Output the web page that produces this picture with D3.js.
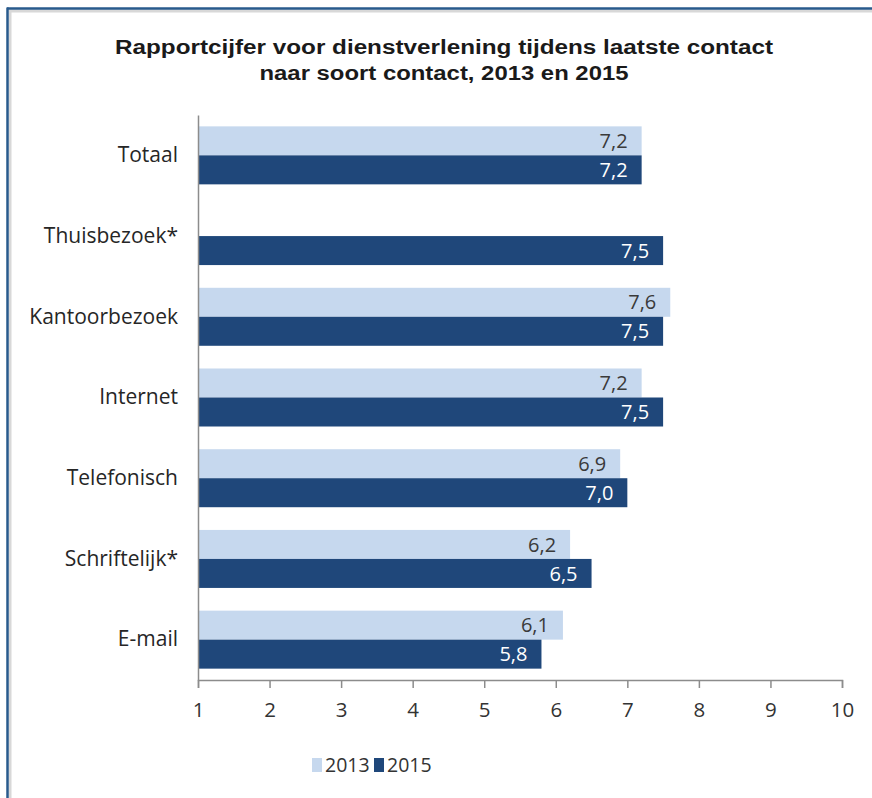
<!DOCTYPE html>
<html>
<head>
<meta charset="utf-8">
<script src="https://cdn.jsdelivr.net/npm/d3@7"></script>
<style>
  html, body { margin: 0; padding: 0; background: #fff; }
  svg { display: block; }
</style>
</head>
<body>
<script>
// Rapportcijfers per soort contact
const categories = ["Totaal", "Thuisbezoek*", "Kantoorbezoek", "Internet", "Telefonisch", "Schriftelijk*", "E-mail"];
const series = ["2013", "2015"];
const values2013 = [7.2, null, 7.6, 7.2, 6.9, 6.2, 6.1];
const values2015 = [7.2, 7.5, 7.5, 7.5, 7.0, 6.5, 5.8];
const tickValues = [1, 2, 3, 4, 5, 6, 7, 8, 9, 10];
const titleLines = ["Rapportcijfer voor dienstverlening tijdens laatste contact", "naar soort contact, 2013 en 2015"];

const W = 872, H = 798;
const colors = { "2013": "#c6d8ee", "2015": "#1f477a" };
const labelColors = { "2013": "#3a3a3a", "2015": "#ffffff" };
const fontUI = "'Open Sans', 'Noto Sans', sans-serif";

const svg = d3.select("body").append("svg").attr("width", W).attr("height", H);

// frame with soft inner shadow
svg.append("rect").attr("x", 10).attr("y", 11).attr("width", W).attr("height", H)
  .attr("fill", "none").attr("stroke", "#d8d8d8").attr("stroke-width", 3);
svg.append("line").attr("x1", 7).attr("x2", W).attr("y1", 8.5).attr("y2", 8.5)
  .attr("stroke", "#285a8c").attr("stroke-width", 2.5);
svg.append("line").attr("x1", 7.5).attr("x2", 7.5).attr("y1", 7.5).attr("y2", H)
  .attr("stroke", "#285a8c").attr("stroke-width", 2.5);

// title, two centred lines stretched to the chart's title width
const titleWidths = [658, 369];
svg.append("g").selectAll("text").data(titleLines).join("text")
  .attr("x", 444).attr("y", (d, i) => 54 + i * 26)
  .attr("text-anchor", "middle")
  .attr("font-family", "'Liberation Sans', Arial, sans-serif")
  .attr("font-weight", "bold")
  .attr("font-size", 19.5)
  .attr("fill", "#1a1a1a")
  .attr("textLength", (d, i) => titleWidths[i])
  .attr("lengthAdjust", "spacingAndGlyphs")
  .text(d => d);

const x = d3.scaleLinear().domain([1, 10]).range([198, 842]);
const y = d3.scaleBand().domain(categories).range([115, 680]);
const yInner = d3.scaleBand().domain(series).range([0, 58]);
const barOffset = (y.bandwidth() - 58) / 2;

const rows = categories.map((c, i) => ({ cat: c, vals: { "2013": values2013[i], "2015": values2015[i] } }));
const bars = [];
rows.forEach(r => series.forEach(s => { if (r.vals[s] != null) bars.push({ cat: r.cat, s, v: r.vals[s] }); }));

const g = svg.append("g");
g.selectAll("rect.bar").data(bars).join("rect")
  .attr("class", "bar")
  .attr("x", x(1))
  .attr("y", d => y(d.cat) + barOffset + yInner(d.s))
  .attr("width", d => x(d.v) - x(1))
  .attr("height", yInner.bandwidth())
  .attr("fill", d => colors[d.s]);

const fmt = v => d3.format(".1f")(v).replace(".", ",");
g.selectAll("text.val").data(bars).join("text")
  .attr("class", "val")
  .attr("x", d => x(d.v) - 14)
  .attr("y", d => y(d.cat) + barOffset + yInner(d.s) + yInner.bandwidth() / 2)
  .attr("dy", "0.36em")
  .attr("text-anchor", "end")
  .attr("font-family", fontUI)
  .attr("font-size", 20)
  .attr("fill", d => labelColors[d.s])
  .text(d => fmt(d.v));

// x axis
const xAxis = svg.append("g").attr("transform", "translate(0,680)")
  .call(d3.axisBottom(x).tickValues(tickValues).tickSize(8).tickPadding(14).tickFormat(d3.format("d")));
xAxis.select(".domain").attr("stroke", "#8c8c8c").attr("stroke-width", 1.5);
xAxis.selectAll(".tick line").attr("stroke", "#8c8c8c").attr("stroke-width", 1.5);
xAxis.selectAll(".tick text").attr("font-family", fontUI).attr("font-size", 20.5).attr("fill", "#333");

// y axis
const yAxis = svg.append("g").attr("transform", "translate(198,0)")
  .call(d3.axisLeft(y).tickSize(0).tickPadding(20));
yAxis.select(".domain").attr("stroke", "#8c8c8c").attr("stroke-width", 1.5);
yAxis.selectAll(".tick text").attr("font-family", fontUI).attr("font-size", 21).attr("fill", "#262626");

// legend
const legend = svg.append("g").attr("transform", "translate(312,765)");
const legItems = legend.selectAll("g").data(series).join("g")
  .attr("transform", (d, i) => `translate(${i * 62},0)`);
legItems.append("rect").attr("x", 0).attr("y", -7).attr("width", 10).attr("height", 14)
  .attr("fill", d => colors[d]);
legItems.append("text").attr("x", 13).attr("dy", "0.36em")
  .attr("font-family", fontUI).attr("font-size", 19.5).attr("fill", "#333")
  .text(d => d);
</script>
</body>
</html>
